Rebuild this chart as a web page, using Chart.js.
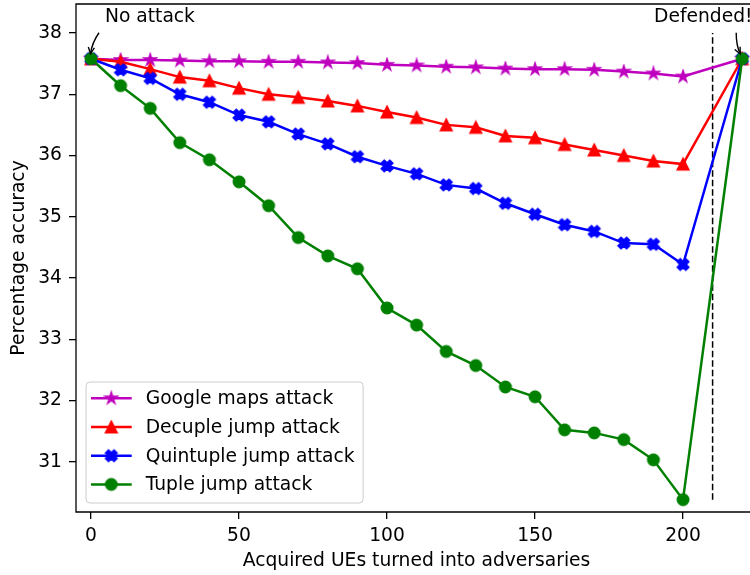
<!DOCTYPE html>
<html>
<head>
<meta charset="utf-8">
<script src="https://cdn.jsdelivr.net/npm/chart.js@4"></script>
<style>
  html, body { margin: 0; padding: 0; background: #fff; overflow: hidden; }
  #wrap { width: 770px; height: 575px; }
</style>
</head>
<body>
<div id="wrap"><canvas id="myChart" width="770" height="575"></canvas></div>
<script>
// x: acquired UEs turned into adversaries (220 = defended)
const acquiredUEs = [0, 10, 20, 30, 40, 50, 60, 70, 80, 90, 100, 110, 120, 130, 140, 150, 160, 170, 180, 190, 200, 220];

const googleMaps = [37.58, 37.56, 37.56, 37.55, 37.54, 37.54, 37.53, 37.53, 37.52, 37.51, 37.48,
  37.47, 37.45, 37.44, 37.42, 37.41, 37.41, 37.40, 37.37, 37.34, 37.29, 37.58];
const decupleJump = [37.58, 37.53, 37.41, 37.28, 37.22, 37.10, 37.00, 36.95, 36.89, 36.81, 36.71,
  36.62, 36.50, 36.46, 36.32, 36.29, 36.18, 36.09, 36.00, 35.91, 35.86, 37.58];
const quintupleJump = [37.58, 37.40, 37.26, 37.00, 36.87, 36.66, 36.55, 36.35, 36.19, 35.98, 35.83,
  35.70, 35.52, 35.46, 35.22, 35.04, 34.87, 34.76, 34.57, 34.55, 34.22, 37.58];
const tupleJump = [37.58, 37.14, 36.77, 36.21, 35.93, 35.57, 35.18, 34.66, 34.36, 34.15, 33.51,
  33.23, 32.80, 32.57, 32.22, 32.06, 31.52, 31.47, 31.36, 31.03, 30.38, 37.58];

const seriesLabels = ['Google maps attack', 'Decuple jump attack', 'Quintuple jump attack', 'Tuple jump attack'];

const xTicks = [0, 50, 100, 150, 200];
const yTicks = [31, 32, 33, 34, 35, 36, 37, 38];

// dashed separator
const defenceX = 210;
const defenceY = [30.38, 38];

// annotations
const noteText = ['No attack', 'Defended!'];
const noteX = [0, 220];
const noteY = [37.58, 37.58];
const noteTextX = [4.7, 190.2];
const noteTextY = [38.18, 38.18];

const FONT = 'DejaVu Sans';
const FS = 18.7;
Chart.defaults.font.family = FONT;
Chart.defaults.font.size = FS;
Chart.defaults.color = '#000';

function marker(kind, color) {
  const ms = 11.2, size = 16;
  const c = document.createElement('canvas');
  c.width = c.height = size;
  const g = c.getContext('2d');
  g.translate(size / 2, size / 2);
  g.scale(ms, ms);
  g.beginPath();
  if (kind === 'circle') {
    g.arc(0, 0, 0.5, 0, Math.PI * 2);
  } else if (kind === 'triangle') {
    g.moveTo(0, -0.5); g.lineTo(0.5, 0.5); g.lineTo(-0.5, 0.5); g.closePath();
  } else if (kind === 'star') {
    for (let k = 0; k < 10; k++) {
      const r = k % 2 ? 0.5 * 0.381966 : 0.5;
      const a = -Math.PI / 2 + k * Math.PI / 5;
      g.lineTo(r * Math.cos(a), r * Math.sin(a));
    }
    g.closePath();
  } else {
    const v = [[-1,-2],[0,-1],[1,-2],[2,-1],[1,0],[2,1],[1,2],[0,1],[-1,2],[-2,1],[-1,0],[-2,-1]];
    v.forEach(([a, b], k) => k ? g.lineTo(a / 4, b / 4) : g.moveTo(a / 4, b / 4));
    g.closePath();
  }
  g.fillStyle = color;
  g.fill();
  g.lineWidth = 1.8 / ms;
  g.strokeStyle = color;
  g.stroke();
  return c;
}

const colors = ['#bf00bf', '#ff0000', '#0000ff', '#008000'];
const kinds = ['star', 'triangle', 'X', 'circle'];
const markers = kinds.map((k, i) => marker(k, colors[i]));
const values = [googleMaps, decupleJump, quintupleJump, tupleJump];

const pts = ys => acquiredUEs.map((x, i) => ({x: x, y: ys[i]}));

const datasets = values.map((ys, i) => ({
  label: seriesLabels[i],
  data: pts(ys),
  borderColor: colors[i],
  backgroundColor: colors[i],
  borderWidth: 2.5,
  pointStyle: markers[i],
  pointRadius: 6,
  pointHoverRadius: 6,
  tension: 0,
  order: 3 - i,
}));

datasets.push({
  label: 'defence',
  data: defenceY.map(y => ({x: defenceX, y: y})),
  borderColor: '#000',
  borderWidth: 1.5,
  borderDash: [6.5, 3],
  pointRadius: 0,
  order: 10,
});

// box round the plot, like matplotlib spines (right one falls outside the picture)
const frame = {
  id: 'frame',
  afterDraw(chart) {
    const {ctx, chartArea: a} = chart;
    ctx.save();
    ctx.strokeStyle = '#000';
    ctx.lineWidth = 1.3;
    ctx.beginPath();
    ctx.moveTo(a.right, a.top);
    ctx.lineTo(a.left, a.top);
    ctx.lineTo(a.left, a.bottom);
    ctx.lineTo(a.right, a.bottom);
    ctx.stroke();
    ctx.restore();
  }
};

const notes = {
  id: 'notes',
  afterDatasetsDraw(chart) {
    const {ctx, scales: {x, y}} = chart;
    ctx.save();
    ctx.fillStyle = '#000';
    ctx.font = FS + 'px "' + FONT + '"';
    ctx.textBaseline = 'alphabetic';
    noteText.forEach((t, i) => {
      ctx.fillText(t, x.getPixelForValue(noteTextX[i]), y.getPixelForValue(noteTextY[i]));
    });
    // curved arrows
    const arrows = [
      {tail: [8, -26], ctrl: [1, -16], tip: [-0.5, -5]},
      {tail: [-6, -26], ctrl: [-6, -13], tip: [-2, -5]},
    ];
    ctx.strokeStyle = '#000';
    ctx.lineWidth = 1.4;
    arrows.forEach((a, i) => {
      const px = x.getPixelForValue(noteX[i]);
      const py = y.getPixelForValue(noteY[i]);
      const t = [px + a.tail[0], py + a.tail[1]];
      const c = [px + a.ctrl[0], py + a.ctrl[1]];
      const e = [px + a.tip[0], py + a.tip[1]];
      ctx.beginPath();
      ctx.moveTo(t[0], t[1]);
      ctx.quadraticCurveTo(c[0], c[1], e[0], e[1]);
      ctx.stroke();
      const ang = Math.atan2(e[1] - c[1], e[0] - c[0]);
      const hl = 7, sp = 0.45;
      ctx.beginPath();
      ctx.moveTo(e[0] - hl * Math.cos(ang - sp), e[1] - hl * Math.sin(ang - sp));
      ctx.lineTo(e[0], e[1]);
      ctx.lineTo(e[0] - hl * Math.cos(ang + sp), e[1] - hl * Math.sin(ang + sp));
      ctx.stroke();
    });
    ctx.restore();
  }
};

// legend box inside the plot, lower left
const legendBox = {
  id: 'legendBox',
  afterDatasetsDraw(chart) {
    const {ctx, chartArea: a} = chart;
    ctx.save();
    ctx.font = FS + 'px "' + FONT + '"';
    const maxW = Math.max(...seriesLabels.map(s => ctx.measureText(s).width));
    const rowH = 28.7;
    const w = 59.7 + maxW + 8.5;
    const h = 121;
    const left = a.left + 10;
    const top = a.bottom - 9 - h;
    ctx.beginPath();
    ctx.roundRect(left, top, w, h, 4);
    ctx.fillStyle = 'rgba(255,255,255,0.8)';
    ctx.fill();
    ctx.strokeStyle = '#cccccc';
    ctx.lineWidth = 1;
    ctx.stroke();
    seriesLabels.forEach((s, i) => {
      const cy = top + 16.3 + i * rowH;
      ctx.strokeStyle = colors[i];
      ctx.lineWidth = 2.5;
      ctx.beginPath();
      ctx.moveTo(left + 5, cy);
      ctx.lineTo(left + 45.7, cy);
      ctx.stroke();
      const m = markers[i];
      ctx.drawImage(m, left + 25.3 - m.width / 2, cy - m.height / 2);
      ctx.fillStyle = '#000';
      ctx.textBaseline = 'middle';
      ctx.fillText(s, left + 59.7, cy + 1);
    });
    ctx.restore();
  }
};

const noPad = s => { s.paddingTop = 0; s.paddingBottom = 0; s.paddingLeft = 0; s.paddingRight = 0; };

const ctx = document.getElementById('myChart');

new Chart(ctx, {
  type: 'line',
  data: { datasets: datasets },
  options: {
    responsive: false,
    animation: false,
    layout: { autoPadding: false, padding: { top: 4, right: 13, left: 0, bottom: 0 } },
    plugins: {
      legend: { display: false },
      tooltip: { enabled: false },
    },
    scales: {
      x: {
        type: 'linear',
        min: -5.07,
        max: 225,
        afterBuildTicks: s => { s.ticks = xTicks.map(v => ({value: v})); },
        afterFit: s => { s.height = 63; noPad(s); },
        border: { display: false },
        grid: { drawOnChartArea: false, drawTicks: true, tickLength: 7, color: '#000', lineWidth: 1.3 },
        ticks: { color: '#000', padding: 6, maxRotation: 0 },
        title: { display: true, text: 'Acquired UEs turned into adversaries', color: '#000', padding: { top: 0, bottom: 3 } },
      },
      y: {
        type: 'linear',
        min: 30.178,
        max: 38.474,
        afterBuildTicks: s => { s.ticks = yTicks.map(v => ({value: v})); },
        afterFit: s => { s.width = 76; noPad(s); },
        border: { display: false },
        grid: { drawOnChartArea: false, drawTicks: true, tickLength: 7, color: '#000', lineWidth: 1.3 },
        ticks: { color: '#000', padding: 7 },
        title: { display: true, text: 'Percentage accuracy', color: '#000', padding: { top: 8, bottom: 0 } },
      },
    },
  },
  plugins: [frame, notes, legendBox],
});
</script>
</body>
</html>
